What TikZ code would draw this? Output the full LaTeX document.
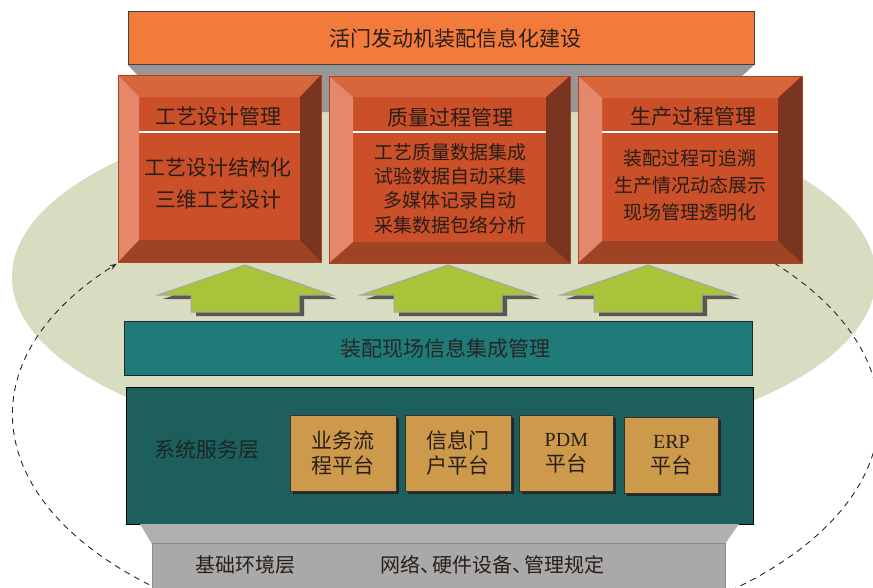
\documentclass[tikz,border=0pt]{standalone}
\usepackage{fontspec}
\setmainfont{Liberation Serif}
\newfontfamily\cjk{Noto Sans CJK SC}
\usetikzlibrary{arrows.meta}
\definecolor{bgell}{HTML}{D8DCC1}
\definecolor{topor}{HTML}{F27B3C}
\definecolor{gback}{HTML}{979797}
\definecolor{bvtop}{HTML}{D9653A}
\definecolor{bvleft}{HTML}{E5876A}
\definecolor{bvright}{HTML}{7A3520}
\definecolor{bvbot}{HTML}{9E4424}
\definecolor{bvface}{HTML}{CB4F28}
\definecolor{arrg}{HTML}{A8C43A}
\definecolor{arrsh}{HTML}{5A5650}
\definecolor{tealA}{HTML}{1F7B78}
\definecolor{tealB}{HTML}{1C5F5D}
\definecolor{platfill}{HTML}{CC9A4A}
\definecolor{gbot}{HTML}{A9A9A9}
\definecolor{gtrap}{HTML}{B0B0B0}
\definecolor{txt}{HTML}{2A1E18}
\definecolor{svctxt}{HTML}{1A2626}
\newcommand\bevbox[6]{%
  \fill[bvface] (#1,#2) rectangle (#3,#4);
  \fill[bvtop] (#1,#2) -- (#3,#2) -- (#3-#5,#2+#6) -- (#1+#5,#2+#6) -- cycle;
  \fill[bvbot] (#1,#4) -- (#3,#4) -- (#3-#5,#4-#6) -- (#1+#5,#4-#6) -- cycle;
  \fill[bvleft] (#1,#2) -- (#1+#5,#2+#6) -- (#1+#5,#4-#6) -- (#1,#4) -- cycle;
  \fill[bvright] (#3,#2) -- (#3-#5,#2+#6) -- (#3-#5,#4-#6) -- (#3,#4) -- cycle;
  \draw[bvface!85!black, line width=0.6] (#1,#2) rectangle (#3,#4);
  \draw[white, line width=2] (#1+#5,132) -- (#3-#5,132);
}
\newcommand\uparr[1]{%
  \fill[arrsh] (#1+5,269) -- (#1+92,299) -- (#1+59,299) -- (#1+59,316) -- (#1-49,316) -- (#1-49,299) -- (#1-82,299) -- cycle;
  \filldraw[fill=arrg, draw=black!35, line width=1] (#1,265) -- (#1+87,295) -- (#1+54,295) -- (#1+54,312) -- (#1-54,312) -- (#1-54,295) -- (#1-87,295) -- cycle;
}
\tikzset{
  lbl/.style={text=txt, inner sep=0pt, font=\cjk\fontsize{21}{25}\selectfont, align=center},
  platbox/.style={fill=platfill, draw=black!80, line width=0.8, minimum width=106, minimum height=76, inner sep=0pt, anchor=north west},
  platshadow/.style={fill=black!85, minimum width=106, minimum height=76, inner sep=0pt, anchor=north west},
  dashline/.style={draw=black!85, line width=0.9, dash pattern=on 6pt off 5pt, -{Stealth[length=7pt,width=5pt]}},
}
\begin{document}
\begin{tikzpicture}[x=1pt,y=-1pt]
\useasboundingbox (0,0) rectangle (873,587);
\clip (0,0) rectangle (873,587);
% background ellipse
\fill[bgell] (444,277) ellipse [x radius=432, y radius=177];
% dashed loop (center 446,415; radii 433, 233)
\coordinate (dstart) at (735.7,241.9);
\draw[dashline] (dstart) arc[start angle=-48, end angle=220.5, x radius=433, y radius=233];
% gray backdrop under top bar
\fill[gback] (128,65) -- (754,65) -- (740,78) -- (740,112) -- (140,112) -- (140,78) -- cycle;
% top bar
\node[fill=topor, draw=black!75, line width=0.8, minimum width=626, minimum height=53, inner sep=0pt] (top) at (441,38) {};
\node[lbl] (toptxt) at (455,38) {活门发动机装配信息化建设};
% bevel boxes
\bevbox{118}{75}{321}{262}{21}{22}
\bevbox{329}{76}{570}{263}{24}{21}
\bevbox{578}{76}{802}{263}{24}{22}
\node[lbl] (t1) at (218,117) {工艺设计管理};
\node[lbl, font=\cjk\fontsize{21}{32}\selectfont] (c1) at (218,184) {工艺设计结构化\\三维工艺设计};
\node[lbl] (t2) at (450,117) {质量过程管理};
\node[lbl, font=\cjk\fontsize{19}{24.3}\selectfont] (c2) at (450,188.5) {工艺质量数据集成\\试验数据自动采集\\多媒体记录自动\\采集数据包络分析};
\node[lbl] (t3) at (693,117) {生产过程管理};
\node[lbl, font=\cjk\fontsize{19}{27}\selectfont] (c3) at (690,185) {装配过程可追溯\\生产情况动态展示\\现场管理透明化};
% arrows
\uparr{245}
\uparr{448}
\uparr{648}
% teal bar
\node[fill=tealA, draw=black!85, line width=0.8, minimum width=628, minimum height=54, inner sep=0pt] (mid) at (438,348) {};
\node[lbl, text=black!85] (midtxt) at (445,348) {装配现场信息集成管理};
% service layer
\node[fill=tealB, draw=black, line width=0.8, minimum width=627, minimum height=137, inner sep=0pt, anchor=north west] (svc) at (126,387) {};
\node[lbl, text=svctxt] (svctxt) at (207,450) {系统服务层};
\node[platshadow] at (292.5,418) {};
\node[platbox] (pa) at (289.5,415) {};
\node[platshadow] at (408,418) {};
\node[platbox] (pb) at (405,415) {};
\node[platshadow, minimum width=94] at (522,418) {};
\node[platbox, minimum width=94] (pc) at (519,415) {};
\node[platshadow, minimum width=94] at (627,420) {};
\node[platbox, minimum width=94] (pd) at (624,417) {};
\node[lbl] at (pa.center) {业务流\\程平台};
\node[lbl] at (pb.center) {信息门\\户平台};
\node[lbl] at (pc.center) {{\fontspec{Liberation Serif}\fontsize{20}{25}\selectfont PDM}\\平台};
\node[lbl] at (pd.center) {{\fontspec{Liberation Serif}\fontsize{20}{25}\selectfont ERP}\\平台};
% base layer
\fill[gtrap] (140,524) -- (739,524) -- (725,544) -- (152,544) -- cycle;
\node[fill=gbot, draw=black!45, line width=0.8, minimum width=573, minimum height=60, inner sep=0pt, anchor=north west] (base) at (152,543) {};
\node[lbl, font=\cjk\fontsize{20}{24}\selectfont] (basel) at (245,565) {基础环境层};
\node[lbl, font=\cjk\fontsize{20}{24}\selectfont] (baser) at (492,565) {网络、\kern-8pt 硬件设备、\kern-8pt 管理规定};
\end{tikzpicture}
\end{document}
